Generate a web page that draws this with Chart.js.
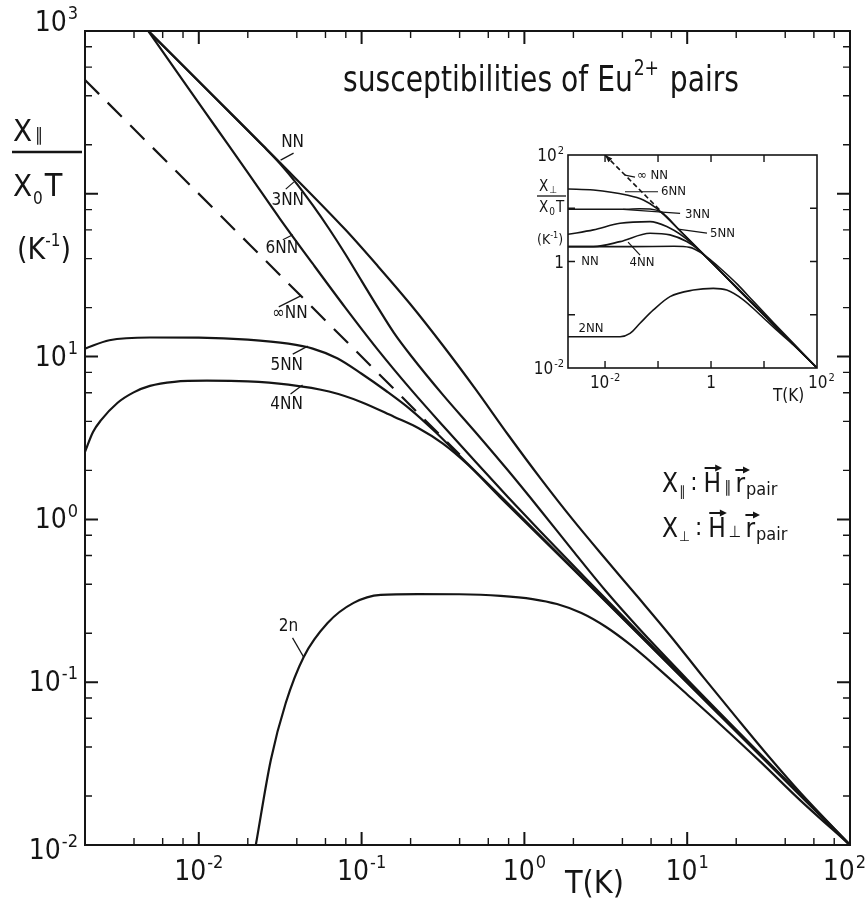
<!DOCTYPE html>
<html>
<head>
<meta charset="utf-8">
<script src="https://cdn.jsdelivr.net/npm/chart.js@4.4.1/dist/chart.umd.min.js"></script>
<style>
  html, body { margin: 0; background: #fff; }
  #wrap { position: relative; width: 868px; height: 899px; }
  #wrap canvas { position: absolute; left: 0; top: 0; }
</style>
</head>
<body>
<div id="wrap">
  <canvas id="mainChart" width="868" height="899"></canvas>
  <canvas id="insetChart" width="868" height="899"></canvas>
</div>
<script>
// main panel: chi_par/(chi0 T) in 1/K vs T in K
const nnT = [0.0049, 0.0126, 0.0316, 0.0794, 0.126, 0.2, 0.316, 0.501, 0.794, 1.259, 1.995, 3.162, 5.01, 7.94, 12.6, 19.95, 31.6, 50.1, 100];
const nnChi = [1000, 389, 155, 60.3, 35.9, 20.9, 11.7, 6.31, 3.31, 1.78, 0.989, 0.569, 0.331, 0.191, 0.107, 0.061, 0.0351, 0.0207, 0.01];

const nn3T = [0.0049, 0.0126, 0.0251, 0.0316, 0.0398, 0.0501, 0.0631, 0.0794, 0.1, 0.126, 0.158, 0.2, 0.316, 0.501, 0.794, 1.259, 1.995, 3.162, 5.01, 10, 31.6, 100];
const nn3Chi = [1000, 389, 195, 153, 116, 85.1, 61.0, 42.7, 29.2, 20.0, 14.0, 10.2, 5.82, 3.43, 1.995, 1.135, 0.638, 0.363, 0.216, 0.104, 0.0322, 0.01];

const nn6T = [0.0049, 0.00794, 0.0126, 0.02, 0.0316, 0.0501, 0.0794, 0.126, 0.2, 0.316, 0.501, 0.794, 1.259, 2.51, 6.31, 19.95, 100];
const nn6Chi = [1000, 501, 260, 135, 70.0, 37.2, 20.0, 11.0, 6.31, 3.76, 2.26, 1.37, 0.841, 0.411, 0.161, 0.0506, 0.01];

const nnInfT = [0.002, 0.4];
const nnInfChi = [500, 2.5];

const nn5T = [0.002, 0.00282, 0.00501, 0.01, 0.02, 0.0355, 0.0501, 0.0708, 0.1, 0.141, 0.2, 0.282, 0.447, 0.708, 2.0, 10, 100];
const nn5Chi = [11.2, 12.6, 13.1, 13.06, 12.7, 12.0, 11.2, 9.77, 7.85, 6.17, 4.73, 3.47, 2.20, 1.40, 0.497, 0.0995, 0.01];

const nn4T = [0.002, 0.00224, 0.00251, 0.00316, 0.00398, 0.00501, 0.00708, 0.0112, 0.02, 0.0355, 0.0631, 0.1, 0.158, 0.224, 0.316, 0.447, 0.708, 2.0, 10, 100];
const nn4Chi = [2.6, 3.44, 4.07, 5.19, 6.03, 6.61, 7.0, 7.11, 7.05, 6.73, 6.10, 5.25, 4.27, 3.63, 2.92, 2.18, 1.37, 0.493, 0.0991, 0.01];

const nn2T = [0.0224, 0.0277, 0.0342, 0.0441, 0.0618, 0.0893, 0.131, 0.221, 0.398, 0.713, 1.122, 1.585, 2.24, 3.16, 4.47, 6.31, 10, 15.8, 28.2, 50.1, 100];
const nn2Chi = [0.01, 0.0333, 0.0745, 0.143, 0.231, 0.307, 0.344, 0.348, 0.347, 0.339, 0.324, 0.302, 0.266, 0.219, 0.170, 0.127, 0.0841, 0.0556, 0.0324, 0.0186, 0.01];

// inset: chi_perp/(chi0 T)
const inNnT = [0.002, 0.0316, 0.2, 0.398, 0.631, 1.0, 1.585, 3.16, 6.31, 15.8, 39.8, 100];
const inNnChi = [1.90, 1.90, 1.93, 1.84, 1.48, 1.05, 0.708, 0.372, 0.178, 0.0676, 0.026, 0.01];

const in2T = [0.002, 0.0192, 0.0296, 0.0457, 0.0817, 0.168, 0.465, 1.107, 1.98, 4.07, 8.41, 17.4, 36.3, 100];
const in2Chi = [0.0387, 0.0387, 0.0447, 0.0692, 0.123, 0.219, 0.291, 0.313, 0.291, 0.191, 0.1, 0.0513, 0.0269, 0.01];

const in3T = [0.002, 0.0251, 0.0447, 0.0708, 0.117, 0.251, 3.16, 100];
const in3Chi = [9.55, 9.55, 9.77, 9.66, 8.32, 3.94, 0.316, 0.01];

const in4T = [0.002, 0.00603, 0.0192, 0.0706, 0.168, 0.348, 0.562, 3.16, 100];
const in4Chi = [1.90, 1.90, 2.36, 3.39, 3.16, 2.37, 1.70, 0.305, 0.01];

const in5T = [0.002, 0.00603, 0.0192, 0.0706, 0.146, 0.301, 0.501, 3.16, 100];
const in5Chi = [3.24, 3.92, 5.22, 5.62, 4.53, 2.94, 1.91, 0.309, 0.01];

const in6T = [0.002, 0.00603, 0.0256, 0.0528, 0.0944, 0.316, 3.16, 15.8, 100];
const in6Chi = [23.0, 22.0, 17.7, 14.3, 9.95, 3.09, 0.313, 0.063, 0.01];

const inInfT = [0.01, 0.13];
const inInfChi = [100, 7.7];

// axes
const mainXTicks = [0.01, 0.1, 1, 10, 100];
const mainXExp = ['-2', '-1', '0', '1', '2'];
const mainYTicks = [1000, 10, 1, 0.1, 0.01];
const mainYExp = ['3', '1', '0', '-1', '-2'];
const minorMults = [2, 4, 6, 8];
const insetXTicks = [0.01, 1, 100];
const insetXText = ['10|-2', '1', '10|2'];
const insetYTicks = [100, 1, 0.01];
const insetYText = ['10|2', '1', '10|-2'];

const FONT = "'DejaVu Sans Condensed', 'DejaVu Sans', sans-serif";
const INK = '#151515';

function pts(ts, ys) { return ts.map((t, i) => ({ x: t, y: ys[i] })); }

function lineSet(label, ts, ys, w, dash) {
    return {
        label: label, data: pts(ts, ys),
        borderColor: INK, borderWidth: w, borderDash: dash || [],
        pointRadius: 0, fill: false, cubicInterpolationMode: 'monotone'
    };
}

// "10|-2" style text -> base + superscript
function drawPow(ctx, txt, x, y, align, size) {
    const parts = txt.split('|');
    const big = size + 'px ' + FONT, small = Math.round(size * 0.64) + 'px ' + FONT;
    ctx.font = big; const w1 = ctx.measureText(parts[0]).width;
    ctx.font = small; const w2 = parts[1] ? ctx.measureText(parts[1]).width + 1 : 0;
    const w = w1 + w2;
    const x0 = align === 'right' ? x - w : align === 'center' ? x - w / 2 : x;
    ctx.textAlign = 'left'; ctx.textBaseline = 'alphabetic';
    ctx.font = big; ctx.fillText(parts[0], x0, y);
    if (parts[1]) { ctx.font = small; ctx.fillText(parts[1], x0 + w1 + 1, y - size * 0.42); }
}

// run of text pieces [text, size, dy], each placed after the previous one
function textRun(ctx, x, y, pieces) {
    ctx.textAlign = 'left'; ctx.textBaseline = 'alphabetic';
    pieces.forEach(p => {
        ctx.font = p[1] + 'px ' + FONT;
        ctx.fillText(p[0], x + (p[3] || 0), y + (p[2] || 0));
        x += ctx.measureText(p[0]).width + (p[3] || 0);
    });
    return x;
}

function logTicks(ctx, chart, mults, majorLen, minorLen, majorW, minorW) {
    const a = chart.chartArea;
    ['x', 'y'].forEach(id => {
        const s = chart.scales[id];
        const lo = Math.floor(Math.log10(s.min)), hi = Math.ceil(Math.log10(s.max));
        for (let d = lo; d <= hi; d++) {
            [1].concat(mults).forEach(m => {
                const v = m * Math.pow(10, d);
                if (v < s.min * 1.001 || v > s.max * 0.999) return;
                const p = s.getPixelForValue(v);
                const len = m === 1 ? majorLen : minorLen;
                ctx.lineWidth = m === 1 ? majorW : minorW;
                ctx.beginPath();
                if (id === 'x') {
                    ctx.moveTo(p, a.bottom); ctx.lineTo(p, a.bottom - len);
                    ctx.moveTo(p, a.top); ctx.lineTo(p, a.top + len);
                } else {
                    ctx.moveTo(a.left, p); ctx.lineTo(a.left + len, p);
                    ctx.moveTo(a.right, p); ctx.lineTo(a.right - len, p);
                }
                ctx.stroke();
            });
        }
    });
}

// curve labels with leader lines, anchored in data coords
function curveLabels(ctx, chart, list, size) {
    const sx = chart.scales.x, sy = chart.scales.y;
    ctx.font = size + 'px ' + FONT;
    ctx.lineWidth = 1.2;
    list.forEach(l => {
        const px = sx.getPixelForValue(l.t), py = sy.getPixelForValue(l.v);
        if (l.lead) {
            ctx.beginPath(); ctx.moveTo(px, py); ctx.lineTo(px + l.lead[0], py + l.lead[1]); ctx.stroke();
        }
        ctx.textAlign = l.align || 'center'; ctx.textBaseline = 'middle';
        ctx.fillText(l.text, px + l.off[0], py + l.off[1]);
    });
}

function arrowOver(ctx, x0, x1, y) {
    ctx.lineWidth = 2;
    ctx.beginPath(); ctx.moveTo(x0, y); ctx.lineTo(x1 - 3, y); ctx.stroke();
    ctx.beginPath(); ctx.moveTo(x1 + 2, y); ctx.lineTo(x1 - 5, y - 3.5); ctx.lineTo(x1 - 5, y + 3.5); ctx.closePath(); ctx.fill();
}

function legendLine(ctx, b, rel) {
    let x = textRun(ctx, 662, b, [['Χ', 26], [rel, 14, 4, 1], [':', 24, -2, 5]]);
    x += 6;
    ctx.font = '26px ' + FONT;
    const wH = ctx.measureText('H').width;
    ctx.fillText('H', x, b);
    arrowOver(ctx, x + 1, x + wH - 1, b - 24);
    x = textRun(ctx, x + wH, b, [[rel, 16, 0, 3]]);
    x += 4;
    ctx.font = '26px ' + FONT;
    const wr = ctx.measureText('r').width;
    ctx.fillText('r', x, b);
    arrowOver(ctx, x, x + wr + 3, b - 22);
    textRun(ctx, x + wr + 1, b, [['pair', 18, 3]]);
}

const mainLabels = [
    { text: 'NN', t: 0.0318, v: 161, lead: [13, -7], off: [12, -18] },
    { text: '3NN', t: 0.0383, v: 118, lead: [-8, 7], off: [-6, 18] },
    { text: '6NN', t: 0.0378, v: 56, lead: [-10, 5], off: [-11, 14] },
    { text: '∞NN', t: 0.0423, v: 23.6, lead: [-22, 11], off: [-11, 18] },
    { text: '5NN', t: 0.0467, v: 11.6, lead: [-15, 8], off: [-21, 19] },
    { text: '4NN', t: 0.0434, v: 6.7, lead: [-12, 9], off: [-16, 20] },
    { text: '2n', t: 0.044, v: 0.143, lead: [-11, -19], off: [-15, -30] }
];

const insetLabels = [
    { text: '∞ NN', t: 0.0238, v: 42, lead: [10, 2], off: [12, 1], align: 'left' },
    { text: '6NN', t: 0.0238, v: 20.4, lead: [33, 0], off: [36, 0], align: 'left' },
    { text: '3NN', t: 0.0219, v: 9.55, lead: [57, 4], off: [62, 5], align: 'left' },
    { text: '5NN', t: 0.238, v: 4.07, lead: [29, 4], off: [32, 5], align: 'left' },
    { text: '4NN', t: 0.0272, v: 2.32, lead: [12, 13], off: [14, 21] },
    { text: 'NN', t: 0.0052, v: 0.98, off: [0, 0] },
    { text: '2NN', t: 0.00545, v: 0.054, off: [0, 0] }
];

const mainDecor = {
    id: 'mainDecor',
    afterDraw(chart) {
        const ctx = chart.ctx, a = chart.chartArea;
        const sx = chart.scales.x, sy = chart.scales.y;
        ctx.save();
        ctx.strokeStyle = INK; ctx.fillStyle = INK;
        ctx.lineWidth = 2; ctx.strokeRect(a.left, a.top, a.right - a.left, a.bottom - a.top);
        logTicks(ctx, chart, minorMults, 13, 7, 2, 1.4);

        mainXTicks.forEach((v, i) => {
            const last = i === mainXTicks.length - 1;
            drawPow(ctx, '10|' + mainXExp[i], last ? 866 : sx.getPixelForValue(v), a.bottom + 35, last ? 'right' : 'center', 28);
        });
        mainYTicks.forEach((v, i) => {
            const dy = i === 0 ? 0 : i === mainYTicks.length - 1 ? 14 : 9;
            drawPow(ctx, '10|' + mainYExp[i], a.left - 7, sy.getPixelForValue(v) + dy, 'right', 28);
        });

        ctx.font = '32px ' + FONT; ctx.textAlign = 'left'; ctx.textBaseline = 'alphabetic';
        ctx.fillText('T(K)', 565, 893);

        // title, narrow lettering
        ctx.save();
        ctx.translate(343, 91); ctx.scale(0.87, 1);
        textRun(ctx, 0, 0, [['susceptibilities of Eu', 36], ['2+', 22, -16, 1], [' pairs', 36, 0, 2]]);
        ctx.restore();

        // y label
        textRun(ctx, 13, 141, [['Χ', 31], ['∥', 18, 0, 3]]);
        ctx.lineWidth = 2.4; ctx.beginPath(); ctx.moveTo(12, 152); ctx.lineTo(82, 152); ctx.stroke();
        textRun(ctx, 13, 196, [['Χ', 31], ['0', 17, 8, 1], ['T', 32, 0, 2]]);
        textRun(ctx, 17, 259, [['(K', 30], ['-1', 17, -13], [')', 30]]);

        legendLine(ctx, 492, '∥');
        legendLine(ctx, 537, '⊥');

        curveLabels(ctx, chart, mainLabels, 17);
        ctx.restore();
    }
};

const insetDecor = {
    id: 'insetDecor',
    afterDraw(chart) {
        const ctx = chart.ctx, a = chart.chartArea;
        const sx = chart.scales.x, sy = chart.scales.y;
        ctx.save();
        ctx.strokeStyle = INK; ctx.fillStyle = INK;
        ctx.lineWidth = 1.6; ctx.strokeRect(a.left, a.top, a.right - a.left, a.bottom - a.top);
        logTicks(ctx, chart, [], 7, 0, 1.4, 1);

        insetXTicks.forEach((v, i) => drawPow(ctx, insetXText[i], sx.getPixelForValue(v) + (i === 2 ? -9 : 0), a.bottom + 20, i === 2 ? 'left' : 'center', 17));
        insetYTicks.forEach((v, i) => drawPow(ctx, insetYText[i], a.left - 4, sy.getPixelForValue(v) + 6, 'right', 17));
        ctx.font = '17px ' + FONT; ctx.textAlign = 'left'; ctx.textBaseline = 'alphabetic';
        ctx.fillText('T(K)', 773, 401);

        // y label
        textRun(ctx, 539, 191, [['Χ', 15], ['⊥', 10, 2, 1]]);
        ctx.lineWidth = 1.3; ctx.beginPath(); ctx.moveTo(537, 196); ctx.lineTo(566, 196); ctx.stroke();
        textRun(ctx, 539, 212, [['Χ', 15], ['0', 10, 3, 1], ['T', 15, 0, 1]]);
        textRun(ctx, 537, 244, [['(K', 14], ['-1', 9, -6], [')', 14]]);

        // arrow head on the free-ion line
        const p0x = sx.getPixelForValue(inInfT[0]), p0y = sy.getPixelForValue(inInfChi[0]);
        const p1x = sx.getPixelForValue(inInfT[1]), p1y = sy.getPixelForValue(inInfChi[1]);
        const ang = Math.atan2(p0y - p1y, p0x - p1x);
        ctx.beginPath();
        ctx.moveTo(p0x, p0y);
        ctx.lineTo(p0x - 8 * Math.cos(ang - 0.35), p0y - 8 * Math.sin(ang - 0.35));
        ctx.lineTo(p0x - 8 * Math.cos(ang + 0.35), p0y - 8 * Math.sin(ang + 0.35));
        ctx.closePath(); ctx.fill();

        curveLabels(ctx, chart, insetLabels, 13);
        ctx.restore();
    }
};

function logScales(xmin, xmax, ymin, ymax) {
    return {
        x: { type: 'logarithmic', min: xmin, max: xmax, display: false },
        y: { type: 'logarithmic', min: ymin, max: ymax, display: false }
    };
}

const baseOpts = {
    responsive: false, animation: false, devicePixelRatio: 1,
    plugins: { legend: { display: false }, tooltip: { enabled: false } },
    elements: { point: { radius: 0 } }
};

new Chart(document.getElementById('mainChart'), {
    type: 'line',
    data: {
        datasets: [
            lineSet('NN', nnT, nnChi, 2.2),
            lineSet('3NN', nn3T, nn3Chi, 2.2),
            lineSet('6NN', nn6T, nn6Chi, 2.2),
            lineSet('∞NN', nnInfT, nnInfChi, 2.2, [20, 12]),
            lineSet('5NN', nn5T, nn5Chi, 2.2),
            lineSet('4NN', nn4T, nn4Chi, 2.2),
            lineSet('2n', nn2T, nn2Chi, 2.2)
        ]
    },
    options: Object.assign({}, baseOpts, {
        layout: { padding: { left: 85, right: 18, top: 31, bottom: 54 } },
        scales: logScales(0.002, 100, 0.01, 1000)
    }),
    plugins: [mainDecor]
});

new Chart(document.getElementById('insetChart'), {
    type: 'line',
    data: {
        datasets: [
            lineSet('NN', inNnT, inNnChi, 1.6),
            lineSet('2NN', in2T, in2Chi, 1.6),
            lineSet('3NN', in3T, in3Chi, 1.6),
            lineSet('4NN', in4T, in4Chi, 1.6),
            lineSet('5NN', in5T, in5Chi, 1.6),
            lineSet('6NN', in6T, in6Chi, 1.6),
            lineSet('∞NN', inInfT, inInfChi, 1.6, [5, 3])
        ]
    },
    options: Object.assign({}, baseOpts, {
        layout: { padding: { left: 568, right: 51, top: 155, bottom: 531 } },
        scales: logScales(0.002, 100, 0.01, 100)
    }),
    plugins: [insetDecor]
});
</script>
</body>
</html>
